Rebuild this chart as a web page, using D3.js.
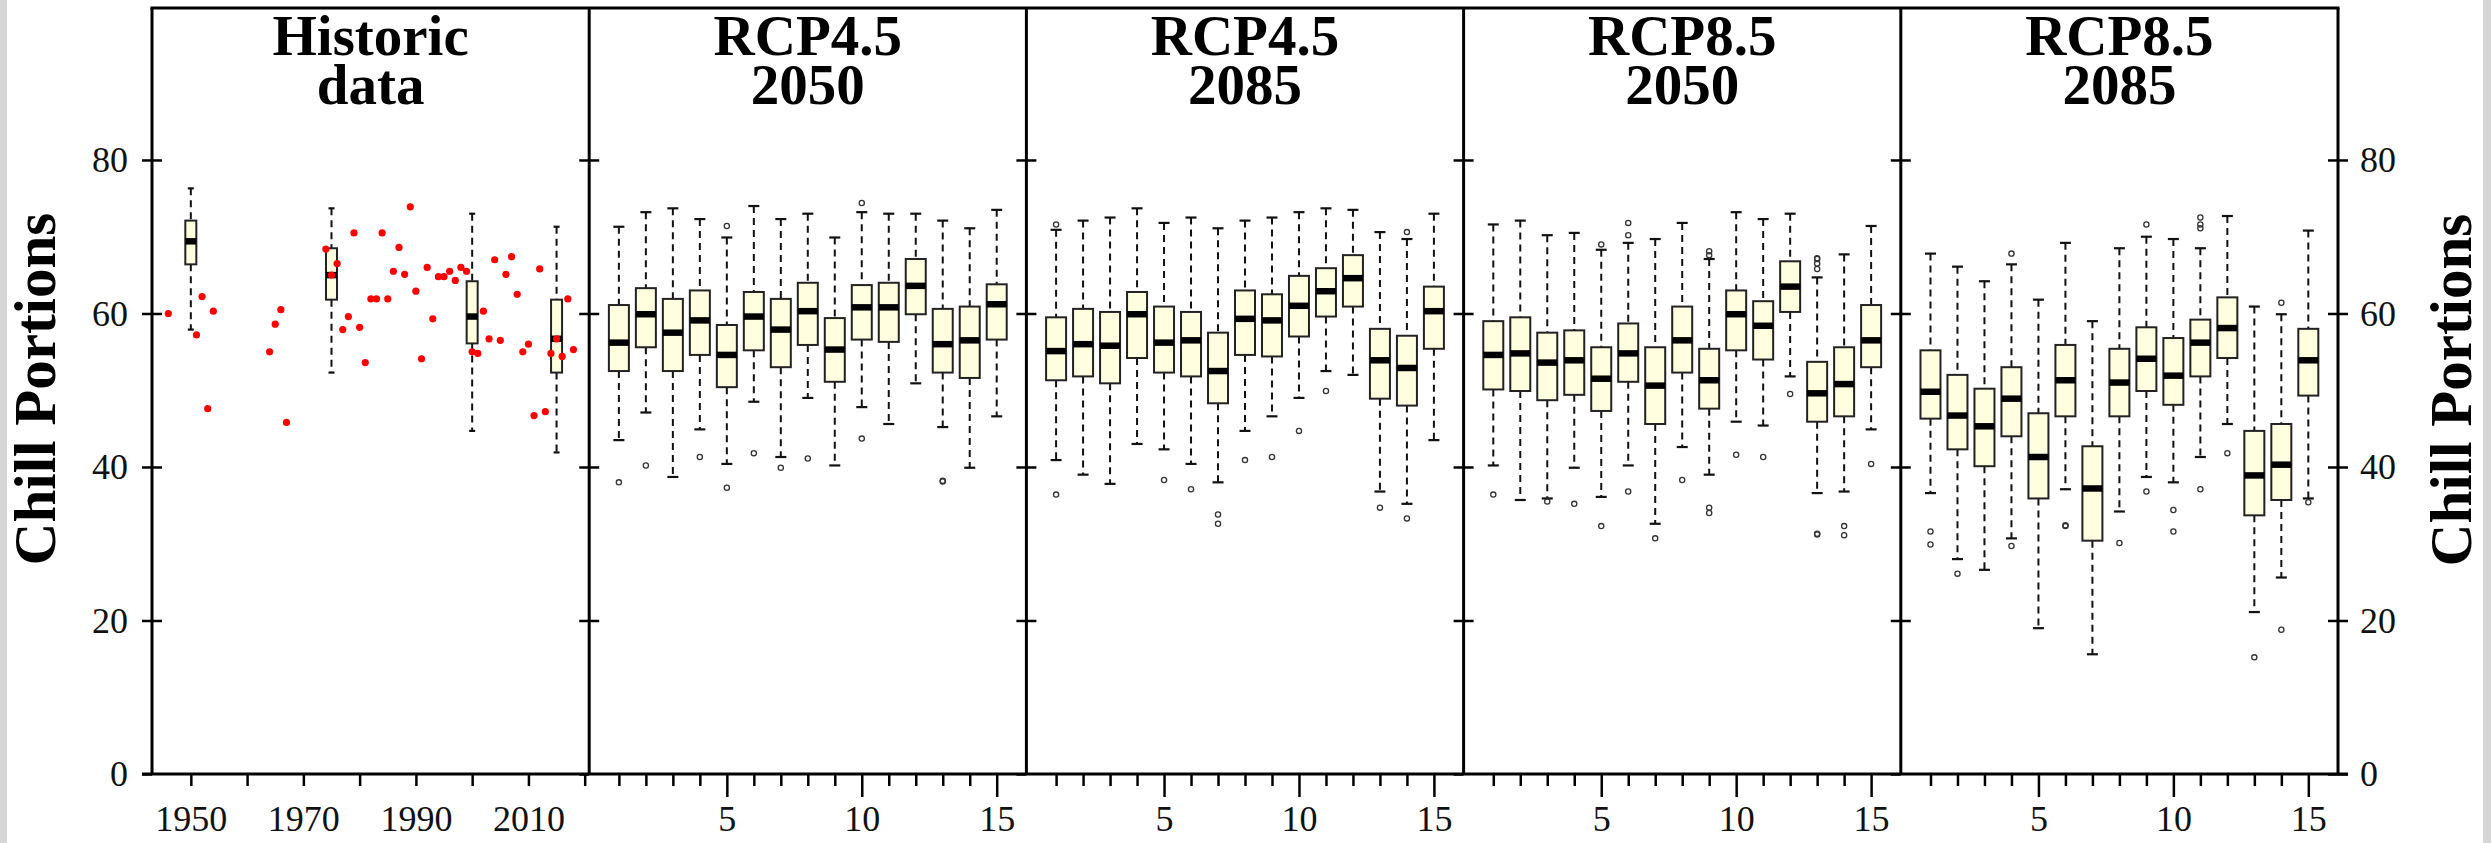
<!DOCTYPE html>
<html><head><meta charset="utf-8">
<script src="https://cdn.jsdelivr.net/npm/d3@7"></script>
<style>html,body{margin:0;padding:0;background:#fff;}svg{display:block;}</style>
</head><body>
<script>
// ---------- DATA ----------
const panelTitles = [["Historic","data"],["RCP4.5","2050"],["RCP4.5","2085"],["RCP8.5","2050"],["RCP8.5","2085"]];
const yTicks = [0,20,40,60,80];
const histXTicks = [1950,1960,1970,1980,1990,2000,2010,2020];
const histXLabels = [1950,1970,1990,2010];
const gcmTicks = [1,2,3,4,5,6,7,8,9,10,11,12,13,14,15];
const gcmLabels = [5,10,15];

const histYears = [1946,1951,1952,1953,1954,1964,1965,1966,1967,1974,1975,1976,1977,1978,1979,1980,1981,1982,1983,1984,1985,1986,1987,1988,1989,1990,1991,1992,1993,1994,1995,1996,1997,1998,1999,2000,2001,2002,2003,2004,2005,2006,2007,2008,2009,2010,2011,2012,2013,2014,2015,2016,2017,2018];
const histValues = [60.0,57.2,62.2,47.6,60.3,55.0,58.6,60.5,45.8,68.4,65.0,66.5,57.9,59.6,70.5,58.2,53.6,61.9,61.9,70.5,61.9,65.5,68.6,65.1,73.9,62.9,54.1,66.0,59.3,64.8,64.8,65.5,64.3,66.0,65.5,55.0,54.8,60.3,56.7,67.0,56.5,65.1,67.4,62.5,55.0,56.0,46.7,65.8,47.2,54.8,56.7,54.4,61.9,55.3];
const histBoxYears = [1950,1975,2000,2015];
// [whisker low, q1, median, q3, whisker high]
const histBoxStats = [[57.9,66.4,69.4,72.1,76.3],[52.3,61.8,65.0,68.5,73.7],[44.7,56.1,59.6,64.2,73.0],[41.9,52.3,56.7,61.8,71.3]];

const rcp45_2050 = [[43.5,52.5,56.2,61.1,71.3],[47.1,55.6,59.9,63.3,73.2],[38.7,52.5,57.5,61.9,73.7],[44.9,54.6,59.1,63.0,72.3],[40.4,50.4,54.6,58.5,69.9],[48.5,55.2,59.6,62.8,74.0],[41.3,53.0,57.9,61.9,72.3],[49.0,55.9,60.3,64.0,73.0],[40.2,51.1,55.3,59.4,69.9],[47.8,56.6,60.8,63.7,73.2],[45.6,56.3,60.8,64.0,73.0],[50.9,59.9,63.6,67.1,73.0],[45.2,52.3,56.0,60.6,72.1],[39.9,51.6,56.5,60.9,71.1],[46.6,56.6,61.2,63.8,73.5]];
const rcp45_2050_out = [[38.0],[40.2],[],[41.3],[71.4,37.3],[41.8],[39.9],[41.1],[],[74.4,43.7],[],[],[38.2,38.1],[],[]];

const rcp45_2085 = [[40.9,51.3,55.1,59.5,70.9],[39.0,51.8,56.0,60.6,72.1],[37.8,50.9,55.8,60.2,72.5],[43.0,54.2,59.9,62.8,73.7],[42.3,52.3,56.2,60.9,71.8],[40.4,51.8,56.5,60.2,72.5],[38.0,48.3,52.5,57.5,71.1],[44.7,54.6,59.3,63.0,72.1],[46.6,54.4,59.1,62.5,72.5],[49.0,57.0,61.0,64.9,73.2],[52.5,59.6,62.9,65.9,73.7],[52.0,60.9,64.6,67.6,73.5],[36.8,48.9,53.9,58.0,70.6],[35.2,48.0,52.9,57.1,69.7],[43.5,55.4,60.3,63.5,73.0]];
const rcp45_2085_out = [[71.6,36.4],[],[],[],[38.3],[37.1],[33.8,32.6],[40.9],[41.3],[44.7],[49.9],[],[34.7],[70.6,33.3],[]];

const rcp85_2050 = [[40.2,50.1,54.6,59.0,71.6],[35.7,49.9,54.8,59.5,72.1],[35.9,48.7,53.6,57.5,70.2],[39.9,49.4,53.9,57.8,70.5],[36.1,47.3,51.5,55.6,68.3],[40.2,51.1,54.8,58.7,69.2],[32.6,45.6,50.6,55.6,69.7],[42.6,52.3,56.5,60.9,71.8],[39.0,47.6,51.3,55.4,67.1],[45.9,55.2,59.9,63.0,73.2],[45.4,54.0,58.4,61.6,72.3],[51.8,60.2,63.5,66.8,73.0],[36.6,45.9,49.6,53.7,64.7],[36.8,46.6,50.8,55.6,67.7],[44.9,53.0,56.5,61.1,71.4]];
const rcp85_2050_out = [[36.4],[],[35.5],[35.2],[69.0,32.3],[71.8,70.2,36.8],[30.7],[38.3],[68.1,67.6,34.7,34.0],[41.6],[41.3],[49.5],[67.2,67.1,66.5,65.8,31.3,31.2],[32.3,31.1],[40.4]];

const rcp85_2085 = [[36.6,46.3,49.8,55.2,67.8],[28.0,42.3,46.7,52.0,66.1],[26.6,40.1,45.3,50.2,64.2],[30.7,44.0,48.9,53.0,66.4],[19.0,35.9,41.3,47.0,61.8],[37.1,46.6,51.3,55.9,69.2],[15.6,30.4,37.2,42.7,59.0],[34.2,46.6,51.0,55.4,68.5],[38.7,49.9,54.1,58.2,70.0],[38.0,48.1,51.9,56.8,69.7],[41.3,51.8,56.2,59.2,68.5],[45.6,54.2,58.1,62.1,72.7],[21.1,33.7,38.9,44.7,60.9],[25.6,35.7,40.3,45.6,59.9],[35.9,49.3,53.9,58.0,70.8]];
const rcp85_2085_out = [[31.6,29.9],[26.1],[],[67.8,29.7],[],[32.4,32.3],[],[30.1],[71.6,36.8],[34.4,31.6],[72.5,71.6,71.1,37.1],[41.8],[15.2],[61.4,18.8],[35.4]];

const scenarioStats = [rcp45_2050, rcp45_2085, rcp85_2050, rcp85_2085];
const scenarioOut = [rcp45_2050_out, rcp45_2085_out, rcp85_2050_out, rcp85_2085_out];

// ---------- LAYOUT ----------
const W = 2491, H = 843;
const plotL = 152, plotR = 2338, plotT = 8, plotB = 774;
const pw = (plotR - plotL) / 5;
const FONT = "'Liberation Serif','Times New Roman',serif";
const boxFill = "#ffffe0";

const svg = d3.select("body").append("svg").attr("width", W).attr("height", H);
svg.append("rect").attr("width", W).attr("height", H).attr("fill", "#fff");
svg.append("rect").attr("x", 0).attr("y", 0).attr("width", 7).attr("height", H).attr("fill", "#d6d6d6");
svg.append("rect").attr("x", 2483).attr("y", 0).attr("width", 8).attr("height", H).attr("fill", "#d6d6d6");

const y = d3.scaleLinear().domain([0, 99.8]).range([plotB, plotT]);

function styleAxis(g) {
  g.select(".domain").remove();
  g.selectAll("line").attr("stroke", "#000").attr("stroke-width", 2.5);
  g.selectAll("text").attr("font-family", FONT).attr("font-size", 36).attr("fill", "#111");
}

function drawBox(g, cx, s, hw, capHw, outs) {
  const [wl, q1, md, q3, wh] = s;
  const dash = "7,5";
  g.append("line").attr("x1", cx).attr("x2", cx).attr("y1", y(wh)).attr("y2", y(q3))
    .attr("stroke", "#111").attr("stroke-width", 2).attr("stroke-dasharray", dash);
  g.append("line").attr("x1", cx).attr("x2", cx).attr("y1", y(q1)).attr("y2", y(wl))
    .attr("stroke", "#111").attr("stroke-width", 2).attr("stroke-dasharray", dash);
  [wl, wh].forEach(v => g.append("line").attr("x1", cx - capHw).attr("x2", cx + capHw)
    .attr("y1", y(v)).attr("y2", y(v)).attr("stroke", "#111").attr("stroke-width", 2.2));
  g.append("rect").attr("x", cx - hw).attr("width", 2 * hw).attr("y", y(q3)).attr("height", y(q1) - y(q3))
    .attr("fill", boxFill).attr("stroke", "#222").attr("stroke-width", 2);
  g.append("line").attr("x1", cx - hw).attr("x2", cx + hw).attr("y1", y(md)).attr("y2", y(md))
    .attr("stroke", "#000").attr("stroke-width", 6.5);
  (outs || []).forEach(v => g.append("circle").attr("cx", cx).attr("cy", y(v)).attr("r", 2.6)
    .attr("fill", "none").attr("stroke", "#333").attr("stroke-width", 1.3));
}

for (let p = 0; p < 5; p++) {
  const x0 = plotL + p * pw, x1 = x0 + pw;
  const g = svg.append("g");
  let x;
  if (p === 0) {
    x = d3.scaleLinear().domain([1943.1, 2020.8]).range([x0, x1]);
    histBoxYears.forEach((yr, i) => drawBox(g, x(yr), histBoxStats[i], 5.5, 3, []));
    g.selectAll("circle.pt").data(histYears).enter().append("circle").attr("class", "pt")
      .attr("cx", d => x(d)).attr("cy", (d, i) => y(histValues[i])).attr("r", 3.6).attr("fill", "#ff0000");
    const ax = svg.append("g").attr("transform", `translate(0,${plotB})`)
      .call(d3.axisBottom(x).tickValues(histXTicks).tickSize(12).tickSizeOuter(0)
        .tickFormat(d => histXLabels.includes(d) ? String(d) : ""));
    styleAxis(ax);
    ax.selectAll("text").attr("y", 57).attr("dy", 0);
  } else {
    x = d3.scaleLinear().domain([-0.1, 16.1]).range([x0, x1]);
    const stats = scenarioStats[p - 1], outs = scenarioOut[p - 1];
    stats.forEach((s, i) => drawBox(g, x(gcmTicks[i]), s, 10, 5.5, outs[i]));
    const ax = svg.append("g").attr("transform", `translate(0,${plotB})`)
      .call(d3.axisBottom(x).tickValues(gcmTicks).tickSize(12).tickSizeOuter(0)
        .tickFormat(d => gcmLabels.includes(d) ? String(d) : ""));
    styleAxis(ax);
    ax.selectAll(".tick line").attr("y2", d => gcmLabels.includes(d) ? 23 : 12);
    ax.selectAll("text").attr("y", 57).attr("dy", 0);
  }
  // title
  const t = svg.append("text").attr("text-anchor", "middle").attr("font-family", FONT)
    .attr("font-weight", "bold").attr("font-size", 57).attr("fill", "#000");
  t.append("tspan").attr("x", (x0 + x1) / 2).attr("y", 55).text(panelTitles[p][0]);
  t.append("tspan").attr("x", (x0 + x1) / 2).attr("y", 104).text(panelTitles[p][1]);
}

// vertical borders with crossing ticks
for (let b = 0; b <= 5; b++) {
  const bx = plotL + b * pw;
  const gl = svg.append("g").attr("transform", `translate(${bx},0)`)
    .call(d3.axisLeft(y).tickValues(yTicks).tickSize(10).tickSizeOuter(0).tickPadding(14)
      .tickFormat(b === 0 ? d3.format("d") : () => ""));
  styleAxis(gl);
  const gr = svg.append("g").attr("transform", `translate(${bx},0)`)
    .call(d3.axisRight(y).tickValues(yTicks.filter(v => v > 0)).tickSize(10).tickSizeOuter(0).tickPadding(12)
      .tickFormat(b === 5 ? d3.format("d") : () => ""));
  styleAxis(gr);
  if (b === 5) {
    const gr0 = svg.append("g").attr("transform", `translate(${bx},0)`)
      .call(d3.axisRight(y).tickValues([0]).tickSize(10).tickSizeOuter(0).tickPadding(12).tickFormat(d3.format("d")));
    styleAxis(gr0);
  }
  svg.append("line").attr("x1", bx).attr("x2", bx).attr("y1", plotT).attr("y2", plotB)
    .attr("stroke", "#000").attr("stroke-width", 3);
}
// top and bottom frame lines
svg.append("line").attr("x1", plotL - 1.5).attr("x2", plotR + 1.5).attr("y1", plotT).attr("y2", plotT)
  .attr("stroke", "#000").attr("stroke-width", 3);
svg.append("line").attr("x1", plotL - 10).attr("x2", plotR + 10).attr("y1", plotB).attr("y2", plotB)
  .attr("stroke", "#000").attr("stroke-width", 3);

// axis titles
svg.append("text").attr("transform", `translate(55,389) rotate(-90)`).attr("text-anchor", "middle")
  .attr("font-family", FONT).attr("font-weight", "bold").attr("font-size", 59).text("Chill Portions");
svg.append("text").attr("transform", `translate(2471,390) rotate(-90)`).attr("text-anchor", "middle")
  .attr("font-family", FONT).attr("font-weight", "bold").attr("font-size", 59).text("Chill Portions");
</script>
</body></html>
